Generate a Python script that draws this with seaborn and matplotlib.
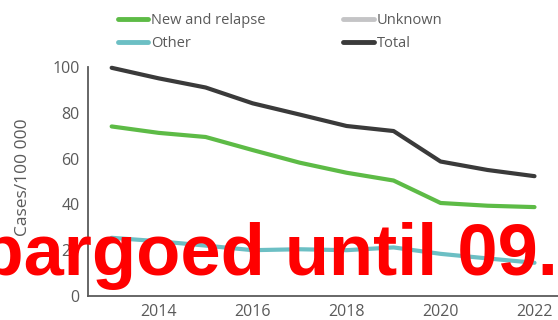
import numpy as np
import pandas as pd
import matplotlib
matplotlib.use('Agg')
import matplotlib.pyplot as plt
from matplotlib.lines import Line2D
from matplotlib.ticker import FixedLocator
import seaborn as sns

years = [2013, 2014, 2015, 2016, 2017, 2018, 2019, 2020, 2021, 2022]
new_relapse = [74.0, 71.2, 69.4, 63.7, 58.2, 53.8, 50.4, 40.6, 39.4, 38.8]
other = [25.4, 23.9, 22.0, 20.0, 20.4, 20.0, 21.2, 18.4, 16.4, 14.5]
unknown = [np.nan] * 10
total = [99.6, 95.0, 91.0, 84.1, 79.2, 74.2, 72.0, 58.7, 55.0, 52.3]

series_names = ['New and relapse', 'Other', 'Unknown', 'Total']
colors = {'New and relapse': '#5dbb46', 'Other': '#6cbfc4',
          'Unknown': '#c4c4c6', 'Total': '#3a3a3a'}

df = pd.DataFrame({
    'year': years * 4,
    'value': new_relapse + other + unknown + total,
    'series': sum([[s] * len(years) for s in series_names], []),
})

sns.set_style('white')
plt.rcParams['font.family'] = ['Open Sans', 'DejaVu Sans']
grey = '#5a5a5a'

fig = plt.figure(figsize=(5.58, 3.2), dpi=100)
ax = fig.add_axes([0.158, 0.075, 0.842, 0.716])

sns.lineplot(data=df.dropna(), x='year', y='value', hue='series',
             hue_order=['New and relapse', 'Other', 'Total'],
             palette=colors, linewidth=3, ax=ax, legend=False)
for ln in ax.lines:
    ln.set_clip_on(False)
    ln.set_solid_joinstyle('round')

ax.set_xlim(2012.5, 2022.5)
ax.set_ylim(0, 100)
ax.set_xticks([2014, 2016, 2018, 2020, 2022])
ax.xaxis.set_minor_locator(FixedLocator(np.arange(2013.5, 2022.5, 1)))
ax.set_yticks([0, 20, 40, 60, 80, 100])
ax.tick_params(axis='x', which='major', length=0, pad=6, labelsize=11.5, labelcolor=grey)
ax.tick_params(axis='x', which='minor', length=4, width=1.2, direction='in', color=grey)
ax.tick_params(axis='y', length=8, width=1.2, direction='in', pad=6, labelsize=11.5,
               labelcolor=grey, color=grey)
ax.set_xlabel('')
ax.set_ylabel('Cases/100 000', fontsize=12.5, color=grey)
ax.yaxis.set_label_coords(-0.122, 0.52)
for side in ['top', 'right']:
    ax.spines[side].set_visible(False)
for side in ['left', 'bottom']:
    ax.spines[side].set_color(grey)
    ax.spines[side].set_linewidth(1.3)

handles = [Line2D([], [], color=colors[s], lw=3.5) for s in series_names]
fig.legend(handles, series_names, loc='upper left', bbox_to_anchor=(0.1925, 0.99),
           ncol=2, frameon=False, fontsize=10.5, handlelength=2.1,
           handletextpad=0.2, columnspacing=5.3, labelspacing=0.5,
           borderpad=0.2, labelcolor=grey)

fig.text(1.0, 0.14, 'Embargoed until 09.', ha='right', va='baseline',
         color='#ff0000', fontsize=52, fontweight='bold',
         family=['Liberation Sans', 'DejaVu Sans'])

fig.savefig('out.png', dpi=100)
